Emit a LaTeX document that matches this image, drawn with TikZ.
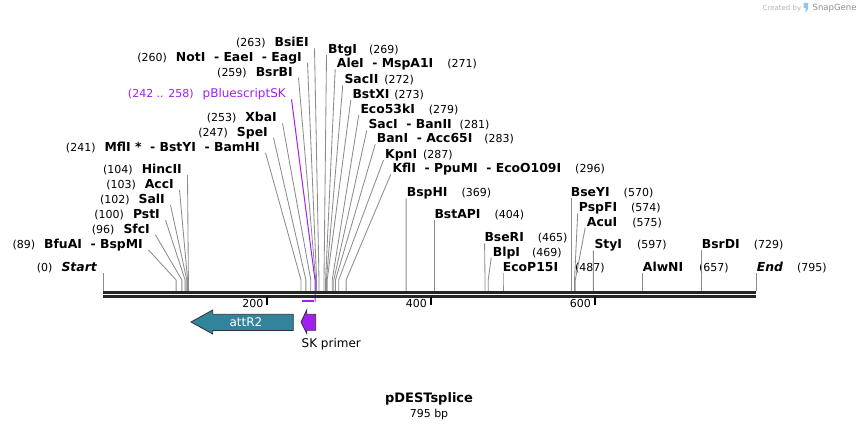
\documentclass[tikz,border=0pt]{standalone}
\usepackage{fontspec}
\setmainfont{DejaVu Sans}
\newcommand{\bpnum}[1]{{\fontsize{11}{13}\selectfont\mdseries #1}}
\definecolor{attteal}{RGB}{49,132,155}
\definecolor{skpurple}{RGB}{160,32,240}
\definecolor{sgblue}{RGB}{140,200,240}

\begin{document}
\begin{tikzpicture}[x=1pt,y=-1pt,
  lab/.style={inner sep=0pt,font=\fontsize{12.4}{14}\selectfont\bfseries},
  cut/.style={draw=black!45,line width=0.85pt},
  tick/.style={draw=black,line width=1.5pt},
  ticklab/.style={inner sep=0pt,anchor=base east,font=\fontsize{11}{13}\selectfont}]
\useasboundingbox (0,0) rectangle (860,430);

% cut sites (top of stub)
\coordinate (bb) at (0,291);
\coordinate (s0) at (103,273);
\coordinate (s89) at (176.1,280);
\coordinate (s96) at (181.9,280);
\coordinate (s100) at (185.1,280);
\coordinate (s102) at (186.8,280);
\coordinate (s103) at (187.6,280);
\coordinate (s104) at (188.4,280);
\coordinate (s241) at (301.0,280);
\coordinate (s247) at (305.9,280);
\coordinate (s253) at (310.8,280);
\coordinate (s258) at (315.0,280);
\coordinate (s259) at (315.7,280);
\coordinate (s260) at (316.6,280);
\coordinate (s263) at (319.0,280);
\coordinate (s269) at (324.0,280);
\coordinate (s271) at (325.6,280);
\coordinate (s272) at (326.4,280);
\coordinate (s273) at (327.2,280);
\coordinate (s279) at (332.2,280);
\coordinate (s281) at (333.8,280);
\coordinate (s283) at (335.5,280);
\coordinate (s287) at (338.7,280);
\coordinate (s296) at (346.1,280);
\coordinate (s369) at (406.1,280);
\coordinate (s404) at (434.8,280);
\coordinate (s465) at (485.0,280);
\coordinate (s469) at (488.2,280);
\coordinate (s487) at (503.0,280);
\coordinate (s570) at (571.2,280);
\coordinate (s574) at (574.5,280);
\coordinate (s575) at (575.3,280);
\coordinate (s597) at (593.4,280);
\coordinate (s657) at (642.7,280);
\coordinate (s729) at (701.8,280);
\coordinate (s795) at (756,273);

% labels left of the sites
\node[lab,anchor=base east] (bsiei) at (309,46.8) {\bpnum{(263)}\hspace{9pt}BsiEI};
\node[lab,anchor=base east] (noti) at (302,61.2) {\bpnum{(260)}\hspace{9pt}NotI~~-~EaeI~~-~EagI};
\node[lab,anchor=base east] (bsrbi) at (293,76.2) {\bpnum{(259)}\hspace{9pt}BsrBI};
\node[lab,anchor=base east,font=\fontsize{12}{14}\selectfont,text=skpurple] (pbks) at (286,97.8) {\bpnum{(242 .. 258)}\hspace{9pt}pBluescriptSK};
\node[lab,anchor=base east] (xbai) at (277,121.8) {\bpnum{(253)}\hspace{9pt}XbaI};
\node[lab,anchor=base east] (spei) at (268,136.2) {\bpnum{(247)}\hspace{9pt}SpeI};
\node[lab,anchor=base east] (mfli) at (260,151.2) {\bpnum{(241)}\hspace{9pt}MflI~*~~-~BstYI~~-~BamHI};
\node[lab,anchor=base east] (hincii) at (182,173.5) {\bpnum{(104)}\hspace{9pt}HincII};
\node[lab,anchor=base east] (acci) at (174,188.5) {\bpnum{(103)}\hspace{9pt}AccI};
\node[lab,anchor=base east] (sali) at (165,203.5) {\bpnum{(102)}\hspace{9pt}SalI};
\node[lab,anchor=base east] (psti) at (160,218.5) {\bpnum{(100)}\hspace{9pt}PstI};
\node[lab,anchor=base east] (sfci) at (150,233.5) {\bpnum{(96)}\hspace{9pt}SfcI};
\node[lab,anchor=base east] (bfuai) at (143,248.5) {\bpnum{(89)}\hspace{9pt}BfuAI~~-~BspMI};
\node[lab,anchor=base east] (startlab) at (97,271.5) {\bpnum{(0)}\hspace{9pt}\itshape Start};

% labels right of the sites
\node[lab,anchor=base west] (btgi) at (328,53.5) {BtgI\hspace{12pt}\bpnum{(269)}};
\node[lab,anchor=base west] (alei) at (336.7,67.8) {AleI~~-~MspA1I\hspace{14pt}\bpnum{(271)}};
\node[lab,anchor=base west] (sacii) at (344.3,83.5) {SacII\hspace{6pt}\bpnum{(272)}};
\node[lab,anchor=base west] (bstxi) at (352.3,98.5) {BstXI\hspace{5pt}\bpnum{(273)}};
\node[lab,anchor=base west] (eco53ki) at (360.3,113.5) {Eco53kI\hspace{14pt}\bpnum{(279)}};
\node[lab,anchor=base west] (saci) at (368.3,128.8) {SacI~~-~BanII\hspace{8pt}\bpnum{(281)}};
\node[lab,anchor=base west] (bani) at (376.7,142.8) {BanI~~-~Acc65I\hspace{12pt}\bpnum{(283)}};
\node[lab,anchor=base west] (kpni) at (385,158.5) {KpnI\hspace{6pt}\bpnum{(287)}};
\node[lab,anchor=base west] (kfli) at (392.3,172.8) {KflI~~-~PpuMI~~-~EcoO109I\hspace{14pt}\bpnum{(296)}};
\node[lab,anchor=base west] (bsphi) at (406.7,196.8) {BspHI\hspace{14pt}\bpnum{(369)}};
\node[lab,anchor=base west] (bstapi) at (434.3,218.5) {BstAPI\hspace{14pt}\bpnum{(404)}};
\node[lab,anchor=base west] (bseri) at (484.3,241.8) {BseRI\hspace{14pt}\bpnum{(465)}};
\node[lab,anchor=base west] (blpi) at (492.7,256.2) {BlpI\hspace{12pt}\bpnum{(469)}};
\node[lab,anchor=base west] (ecop15i) at (502.7,271.8) {EcoP15I\hspace{17pt}\bpnum{(487)}};
\node[lab,anchor=base west] (bseyi) at (570.7,196.8) {BseYI\hspace{14pt}\bpnum{(570)}};
\node[lab,anchor=base west] (pspfi) at (578.7,211.8) {PspFI\hspace{14pt}\bpnum{(574)}};
\node[lab,anchor=base west] (acui) at (586.7,226.2) {AcuI\hspace{15pt}\bpnum{(575)}};
\node[lab,anchor=base west] (styi) at (594.3,248.8) {StyI\hspace{15pt}\bpnum{(597)}};
\node[lab,anchor=base west] (alwni) at (642.7,271.8) {AlwNI\hspace{16pt}\bpnum{(657)}};
\node[lab,anchor=base west] (bsrdi) at (701.7,248.8) {BsrDI\hspace{14pt}\bpnum{(729)}};
\node[lab,anchor=base west] (endlab) at (756.7,271.8) {\itshape End\upshape\hspace{14pt}\bpnum{(795)}};

% connectors
\draw[cut] ([shift={(5.5,1.5)}]bsiei.base east) -- (s263) -- (s263 |- bb);
\draw[cut] ([shift={(5.5,1.5)}]noti.base east) -- (s260) -- (s260 |- bb);
\draw[cut] ([shift={(5.5,1.5)}]bsrbi.base east) -- (s259) -- (s259 |- bb);
\draw[cut] ([shift={(5.5,1.5)}]xbai.base east) -- (s253) -- (s253 |- bb);
\draw[cut] ([shift={(5.5,1.5)}]spei.base east) -- (s247) -- (s247 |- bb);
\draw[cut] ([shift={(5.5,1.5)}]mfli.base east) -- (s241) -- (s241 |- bb);
\draw[cut] ([shift={(5.5,1.5)}]hincii.base east) -- (s104) -- (s104 |- bb);
\draw[cut] ([shift={(5.5,1.5)}]acci.base east) -- (s103) -- (s103 |- bb);
\draw[cut] ([shift={(5.5,1.5)}]sali.base east) -- (s102) -- (s102 |- bb);
\draw[cut] ([shift={(5.5,1.5)}]psti.base east) -- (s100) -- (s100 |- bb);
\draw[cut] ([shift={(5.5,1.5)}]sfci.base east) -- (s96) -- (s96 |- bb);
\draw[cut] ([shift={(5.5,1.5)}]bfuai.base east) -- (s89) -- (s89 |- bb);
\draw[cut] (s0) -- (s0 |- bb);
\draw[cut] ([shift={(-1.5,1.5)}]btgi.base west) -- (s269) -- (s269 |- bb);
\draw[cut] ([shift={(-1.5,1.5)}]alei.base west) -- (s271) -- (s271 |- bb);
\draw[cut] ([shift={(-1.5,1.5)}]sacii.base west) -- (s272) -- (s272 |- bb);
\draw[cut] ([shift={(-1.5,1.5)}]bstxi.base west) -- (s273) -- (s273 |- bb);
\draw[cut] ([shift={(-1.5,1.5)}]eco53ki.base west) -- (s279) -- (s279 |- bb);
\draw[cut] ([shift={(-1.5,1.5)}]saci.base west) -- (s281) -- (s281 |- bb);
\draw[cut] ([shift={(-1.5,1.5)}]bani.base west) -- (s283) -- (s283 |- bb);
\draw[cut] ([shift={(-1.5,1.5)}]kpni.base west) -- (s287) -- (s287 |- bb);
\draw[cut] ([shift={(-1.5,1.5)}]kfli.base west) -- (s296) -- (s296 |- bb);
\draw[cut] ([shift={(-0.6,1.5)}]bsphi.base west) -- (s369) -- (s369 |- bb);
\draw[cut] ([shift={(0.5,1.5)}]bstapi.base west) -- (s404) -- (s404 |- bb);
\draw[cut] ([shift={(0.3,1.5)}]bseri.base west) -- (s465) -- (s465 |- bb);
\draw[cut] ([shift={(-1.5,1.5)}]blpi.base west) -- (s469) -- (s469 |- bb);
\draw[cut] ([shift={(0.3,1.5)}]ecop15i.base west) -- (s487) -- (s487 |- bb);
\draw[cut] ([shift={(0.5,1.5)}]bseyi.base west) -- (s570) -- (s570 |- bb);
\draw[cut] ([shift={(-1,1.5)}]pspfi.base west) -- (s574) -- (s574 |- bb);
\draw[cut] ([shift={(-1.5,1.5)}]acui.base west) -- (s575) -- (s575 |- bb);
\draw[cut] ([shift={(-0.9,1.5)}]styi.base west) -- (s597) -- (s597 |- bb);
\draw[cut] ([shift={(0,1.5)}]alwni.base west) -- (s657) -- (s657 |- bb);
\draw[cut] ([shift={(0.1,1.5)}]bsrdi.base west) -- (s729) -- (s729 |- bb);
\draw[cut] (s795) -- (s795 |- bb);
\draw[skpurple,line width=1pt] ([shift={(5.5,1.5)}]pbks.base east) -- (s258) -- (315,301.7);

% backbone
\draw[black!85,line width=2.7pt] (103,292.3) -- (756,292.3);
\draw[black!85,line width=2.7pt] (103,296.3) -- (756,296.3);
\draw[skpurple,line width=2pt] (301.8,300.7) -- (313.5,300.7);

% scale
\draw[tick] (267,297.5) -- (267,305);
\draw[tick] (431,297.5) -- (431,305);
\draw[tick] (595,297.5) -- (595,305);
\node[ticklab] (t200) at (263.5,308) {200};
\node[ticklab] (t400) at (427,308) {400};
\node[ticklab] (t600) at (591,308) {600};

% features
\filldraw[fill=attteal,draw=black!80,line width=0.8pt] (191,322) -- (212.7,310) -- (212.7,314.3) -- (293.3,314.3) -- (293.3,330.5) -- (212.7,330.5) -- (212.7,334) -- cycle;
\node[inner sep=0pt,text=white,font=\fontsize{12}{14}\selectfont] (attr2) at (246,322) {attR2};
\filldraw[fill=skpurple,draw=black!80,line width=0.8pt] (301,322) -- (306.7,310) -- (306.7,314.3) -- (315.7,314.3) -- (315.7,330.3) -- (306.7,330.3) -- (306.7,333.5) -- cycle;
\node[inner sep=0pt,anchor=base west,font=\fontsize{12}{14}\selectfont] (skprimer) at (301.5,347.5) {SK primer};

% title
\node[inner sep=0pt,font=\fontsize{13}{15}\selectfont\bfseries] (title) at (429,399) {pDESTsplice};
\node[inner sep=0pt,font=\fontsize{11}{13}\selectfont] (size) at (429,414) {795 bp};

% watermark
\node[inner sep=0pt,anchor=base west,text=black!30,font=\fontsize{7}{8}\selectfont] (made) at (762.5,10.5) {Created by};
\fill[sgblue] (803.5,3) -- (808,3) -- (808,9) -- (805.5,13) -- (805.5,8) -- (803.5,8) -- cycle;
\node[inner sep=0pt,anchor=base west,text=black!45,font=\fontsize{8.5}{10}\selectfont] (sg) at (812.5,11) {SnapGene};

\end{tikzpicture}
\end{document}
